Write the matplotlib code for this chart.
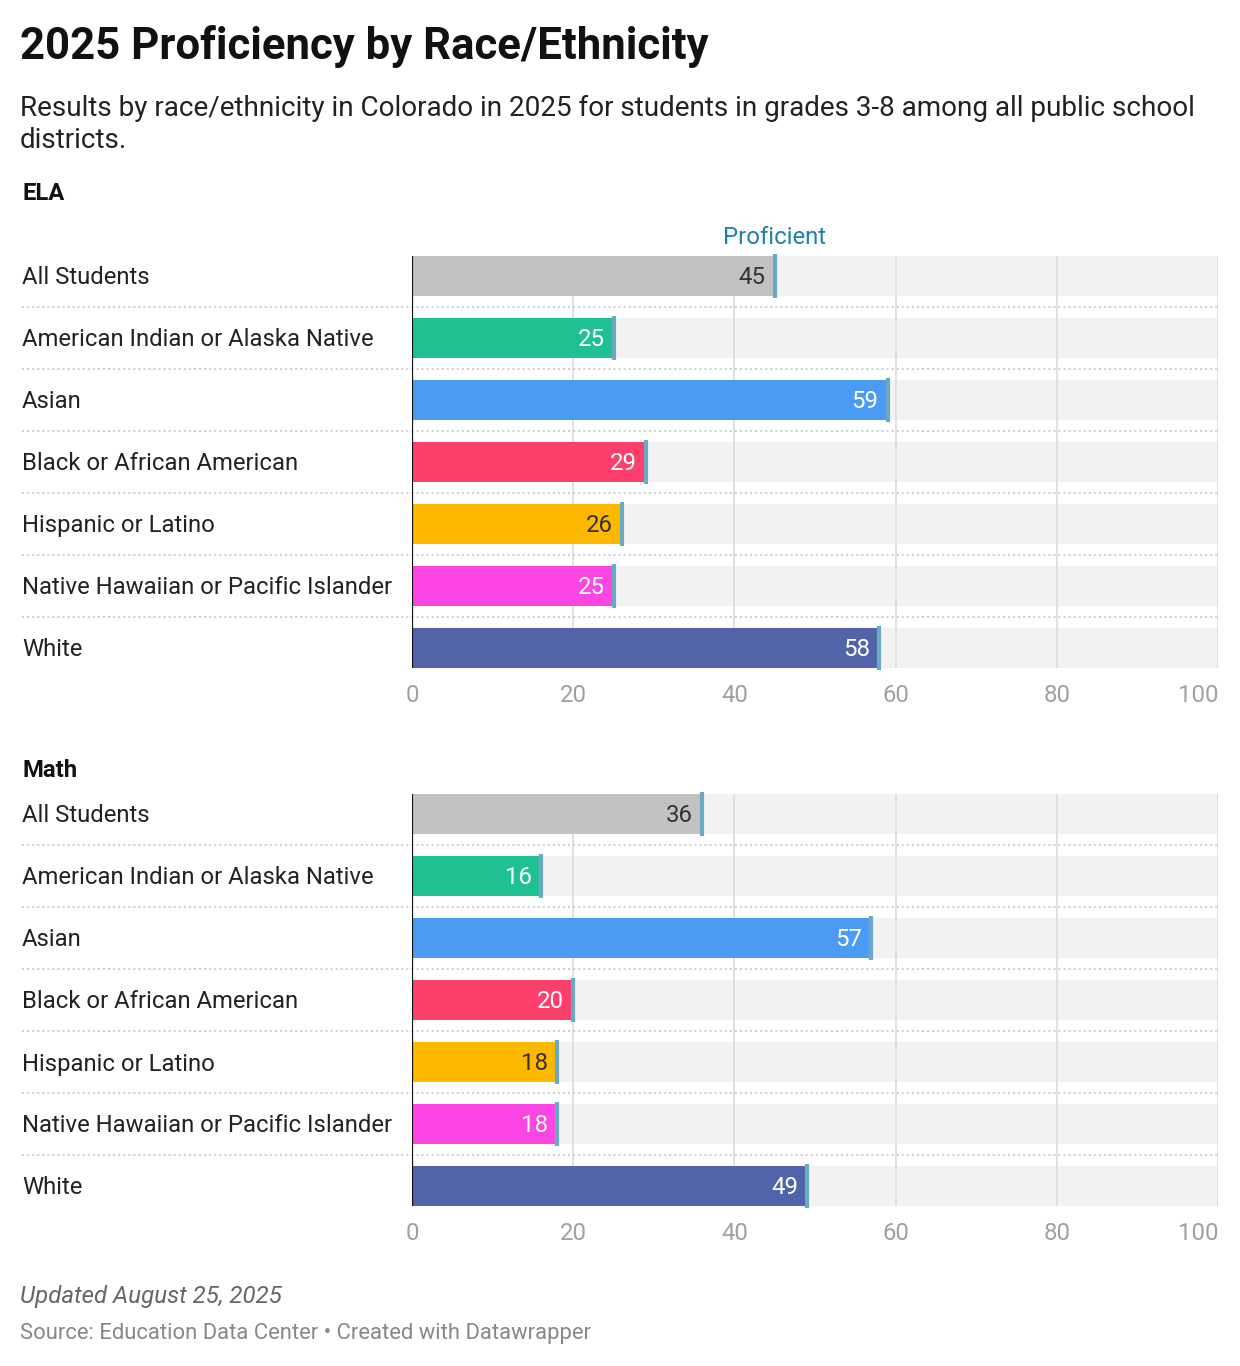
import matplotlib
matplotlib.use("Agg")
import matplotlib.pyplot as plt
from matplotlib.transforms import blended_transform_factory as btf

plt.rcParams['font.family'] = ['Roboto', 'DejaVu Sans']

categories = ["All Students", "American Indian or Alaska Native", "Asian",
              "Black or African American", "Hispanic or Latino",
              "Native Hawaiian or Pacific Islander", "White"]
ela_values = [45, 25, 59, 29, 26, 25, 58]
math_values = [36, 16, 57, 20, 18, 18, 49]
colors = ["#c2c2c2", "#1fc093", "#4b9bf5", "#ff3f6b", "#ffb800", "#fb46e4", "#5264a9"]
label_colors = ["#333333", "white", "white", "white", "#333333", "white", "white"]
ticks = [0, 20, 40, 60, 80, 100]

W, H = 1240, 1366
fig = plt.figure(figsize=(W / 100, H / 100), dpi=100)

def px_ax(x0, y_top, x1, y_bot):
    return fig.add_axes([x0 / W, 1 - y_bot / H, (x1 - x0) / W, (y_bot - y_top) / H])

def ftext(x, y, s, **kw):
    fig.text(x / W, 1 - y / H, s, **kw)

ftext(20, 47, "2025 Proficiency by Race/Ethnicity", fontsize=31.5, fontweight='bold',
      color='#111111', va='center', ha='left')
ftext(20, 108, "Results by race/ethnicity in Colorado in 2025 for students in grades 3-8 among all public school",
      fontsize=20.1, color='#222222', va='center', ha='left')
ftext(20, 141, "districts.", fontsize=20.1, color='#222222', va='center', ha='left')

def panel(values, title, title_y, row0_y, show_prof):
    spacing = 62
    top = row0_y - spacing / 2
    bot = row0_y + 6 * spacing + spacing / 2
    ax = px_ax(412, top, 1218, bot)
    ax.set_xlim(0, 100)
    ax.set_ylim(6.5, -0.5)
    for s in ax.spines.values():
        s.set_visible(False)
    n = len(categories)
    bh = 40 / spacing
    ypos = list(range(n))
    ax.barh(ypos, [100] * n, height=bh, color='#f2f2f2', zorder=1)
    for t in ticks[1:]:
        ax.vlines(t, -0.5 + 11 / spacing, 6.5 - 11 / spacing, color='#dcdcdc', lw=1.2, zorder=2)
    ax.barh(ypos, values, height=bh, color=colors, zorder=3)
    ax.vlines(values, [y - 22 / spacing for y in ypos], [y + 22 / spacing for y in ypos],
              color='#6aa9c2', lw=3, zorder=4)
    ax.vlines(0, -0.5 + 11 / spacing, 6.5 - 11 / spacing, color='#111111', lw=1.6, zorder=5)
    for i, (v, lc) in enumerate(zip(values, label_colors)):
        ax.annotate(str(v), (v, i), xytext=(-9, -2), textcoords='offset pixels',
                    ha='right', va='center', fontsize=17.3, color=lc, zorder=6)
    tr = btf(fig.transFigure, ax.transData)
    for i, c in enumerate(categories):
        ax.annotate(c, (22 / W, i), xycoords=tr, xytext=(0, -2), textcoords='offset pixels',
                    ha='left', va='center', fontsize=17.2, color='#222222', annotation_clip=False)
    for i in range(n - 1):
        ax.plot([22 / W, 1218 / W], [i + 0.5, i + 0.5], transform=tr, color='#cccccc',
                lw=1.3, ls=(0, (1.2, 1.6)), clip_on=False, zorder=2)
    ax.set_yticks([])
    ax.set_xticks(ticks)
    ax.set_xticklabels([str(t) for t in ticks])
    ax.tick_params(axis='x', length=0, pad=3.5, labelsize=17.2, labelcolor='#a0a0a0')
    ax.get_xticklabels()[-1].set_horizontalalignment('right')
    ax.patch.set_visible(False)
    ftext(22, title_y + 2, title, fontsize=17.2, fontweight='bold', color='#111111',
          va='center', ha='left')
    if show_prof:
        ax.annotate("Proficient", (values[0], 0), xytext=(0, 38), textcoords='offset pixels',
                    ha='center', va='center', fontsize=17.2, color='#1d82a5')
    return ax

panel(ela_values, "ELA", 192, 276, True)
panel(math_values, "Math", 768, 814, False)

ftext(20, 1297, "Updated August 25, 2025", fontsize=17.3, fontstyle='italic', color='#666666',
      va='center', ha='left')
ftext(20, 1334, "Source: Education Data Center \u2022 Created with Datawrapper", fontsize=15.8,
      color='#888888', va='center', ha='left')

fig.savefig("out.png", dpi=100, facecolor='white')
